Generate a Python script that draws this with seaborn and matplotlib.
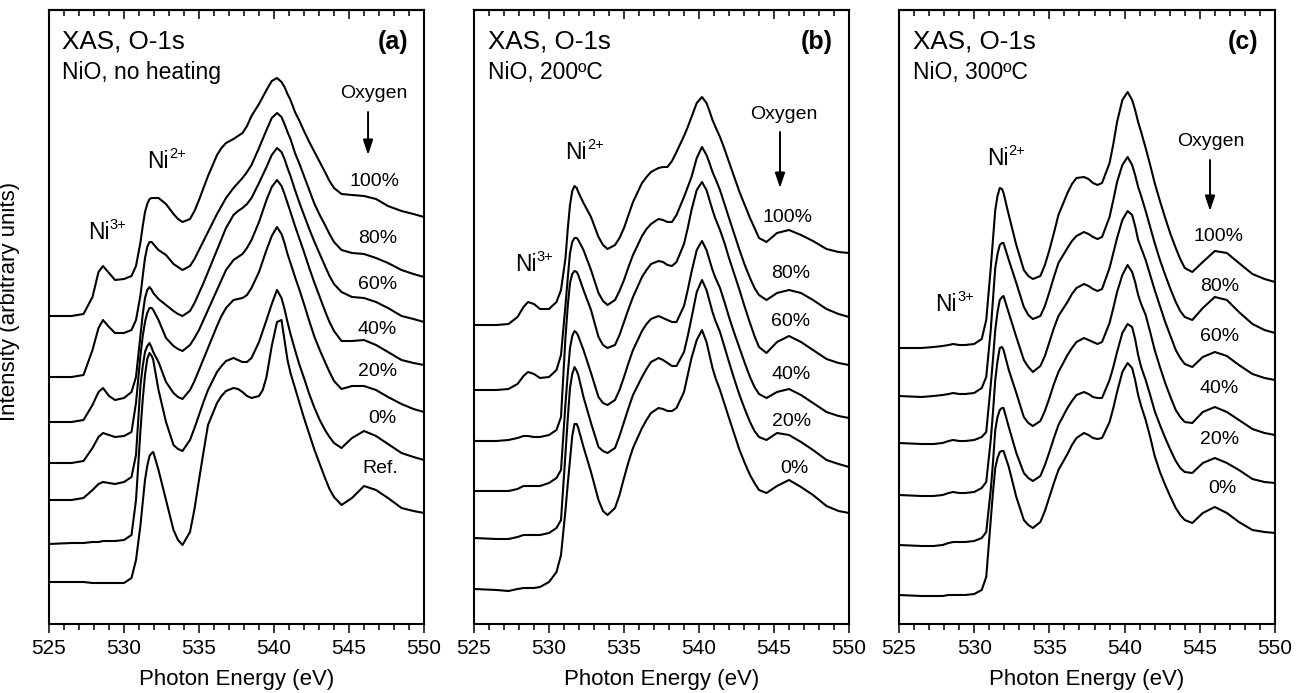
import matplotlib
matplotlib.use("Agg")
import matplotlib.pyplot as plt
import pandas as pd
import seaborn as sns
from matplotlib.ticker import MultipleLocator

# ---------------- data (photon energy in eV, intensity in arbitrary units, curves already stacked) -------------
energy = [525.0, 526.5, 527.3, 527.9, 528.3, 528.6, 529.0, 529.4, 530.0, 530.5,
          530.8, 531.1, 531.25, 531.4, 531.55, 531.7, 531.85, 531.95, 532.3, 532.8,
          533.3, 533.6, 533.9, 534.4, 534.7, 535.0, 535.3, 535.6, 536.2, 536.5,
          536.8, 537.3, 537.6, 537.9, 538.2, 538.5, 539.0, 539.25, 539.5, 539.85,
          540.2, 540.5, 540.7, 540.9, 541.1, 541.4, 541.7, 542.0, 542.35, 542.7,
          543.05, 543.4, 543.7, 544.0, 544.5, 545.2, 546.0, 546.8, 547.6, 548.5,
          549.3, 550.0]

# panel (a): NiO, no heating
a100 = [308, 308, 310, 327, 352, 358, 351, 344, 345, 348,
        358, 382, 398, 412, 420, 425, 426, 426, 426, 420,
        410, 405, 402, 405, 413, 424, 436, 448, 469, 476,
        481, 485, 488, 491, 498, 508, 520, 527, 534, 543,
        546, 542, 537, 530, 524, 512, 503, 493, 482, 472,
        462, 452, 443, 436, 430, 429, 428, 425, 418, 413,
        410, 407]
a80 = [247, 247, 249, 274, 296, 304, 297, 291, 291, 294,
       304, 329, 348, 366, 377, 382, 382, 380, 374, 369,
       360, 357, 354, 358, 365, 374, 383, 392, 410, 418,
       426, 436, 441, 446, 452, 459, 476, 485, 494, 506,
       511, 507, 500, 492, 485, 471, 460, 448, 434, 420,
       409, 399, 390, 382, 374, 371, 370, 366, 361, 354,
       350, 347]
a60 = [202, 202, 204, 219, 232, 236, 228, 224, 226, 232,
       247, 289, 310, 326, 334, 337, 334, 331, 325, 319,
       313, 310, 308, 313, 321, 331, 341, 352, 374, 385,
       396, 409, 413, 416, 420, 426, 441, 449, 457, 469,
       476, 472, 465, 456, 448, 434, 421, 409, 395, 382,
       370, 358, 348, 340, 332, 327, 326, 322, 316, 308,
       305, 302]
a40 = [161, 161, 163, 176, 187, 191, 189, 187, 188, 192,
       221, 269, 288, 302, 311, 316, 316, 314, 304, 286,
       278, 275, 273, 279, 286, 294, 304, 314, 334, 344,
       354, 364, 367, 370, 376, 384, 402, 413, 424, 437,
       444, 438, 430, 421, 412, 398, 385, 372, 356, 341,
       327, 313, 302, 293, 283, 283, 284, 279, 272, 264,
       261, 259]
a20 = [124, 124, 126, 134, 140, 142, 141, 140, 142, 147,
       169, 239, 258, 272, 278, 281, 276, 272, 262, 242,
       231, 227, 225, 234, 243, 254, 265, 276, 298, 308,
       316, 324, 325, 326, 329, 336, 352, 363, 374, 388,
       397, 390, 381, 370, 361, 347, 334, 320, 303, 287,
       274, 262, 252, 243, 235, 238, 238, 234, 227, 220,
       215, 212]
a0 = [80, 81, 81, 82, 82, 83, 83, 83, 84, 89,
      124, 194, 225, 249, 265, 271, 268, 264, 234, 202,
      179, 175, 173, 184, 196, 209, 222, 234, 252, 258,
      263, 266, 264, 262, 262, 266, 282, 293, 304, 320,
      334, 326, 315, 302, 290, 274, 259, 246, 230, 216,
      204, 194, 187, 181, 176, 186, 193, 188, 180, 171,
      167, 164]
a_ref = [42, 42, 42, 41, 41, 41, 41, 41, 41, 46,
         64, 99, 122, 144, 158, 168, 171, 172, 154, 124,
         94, 84, 79, 92, 115, 144, 172, 199, 221, 228,
         233, 236, 235, 232, 228, 226, 228, 234, 247, 278,
         302, 304, 284, 264, 251, 236, 221, 206, 190, 174,
         160, 146, 135, 127, 119, 126, 138, 134, 126, 116,
         113, 111]

# panel (b): NiO, 200 C
b100 = [299, 299, 300, 307, 317, 322, 320, 315, 315, 322,
        334, 366, 395, 419, 433, 438, 436, 432, 421, 407,
        387, 379, 375, 379, 386, 396, 409, 422, 441, 447,
        452, 456, 457, 457, 463, 472, 488, 497, 507, 521,
        527, 521, 513, 504, 497, 487, 475, 462, 447, 432,
        419, 406, 396, 386, 382, 391, 394, 389, 383, 375,
        372, 371]
b80 = [234, 234, 235, 240, 248, 252, 250, 246, 247, 254,
       269, 319, 346, 371, 382, 386, 386, 384, 374, 354,
       331, 323, 319, 324, 333, 344, 357, 369, 388, 395,
       400, 405, 404, 402, 402, 409, 427, 437, 447, 466,
       477, 469, 461, 452, 445, 434, 420, 406, 390, 374,
       359, 346, 336, 329, 324, 331, 334, 331, 324, 315,
       310, 307]
b60 = [183, 183, 184, 186, 188, 188, 187, 187, 189, 194,
       207, 287, 318, 341, 350, 353, 352, 349, 334, 314,
       287, 279, 276, 279, 289, 302, 315, 327, 347, 354,
       360, 363, 362, 359, 358, 362, 380, 396, 414, 434,
       442, 434, 424, 414, 405, 394, 381, 366, 350, 334,
       317, 301, 288, 277, 271, 282, 288, 282, 274, 265,
       261, 259]
b40 = [133, 133, 133, 135, 138, 138, 138, 138, 141, 146,
       154, 221, 250, 276, 288, 293, 291, 288, 274, 251,
       227, 221, 219, 224, 234, 247, 261, 274, 293, 300,
       305, 308, 306, 304, 302, 302, 318, 334, 352, 374,
       383, 374, 364, 354, 346, 336, 322, 307, 291, 276,
       261, 247, 237, 230, 226, 232, 235, 229, 221, 212,
       208, 206]
b20 = [86, 85, 85, 87, 89, 89, 89, 89, 91, 96,
       104, 171, 205, 236, 250, 257, 253, 249, 227, 201,
       177, 173, 171, 176, 188, 202, 216, 229, 247, 255,
       262, 266, 264, 261, 258, 258, 272, 288, 306, 332,
       344, 334, 323, 312, 303, 292, 277, 262, 245, 229,
       215, 202, 193, 187, 184, 191, 189, 182, 174, 164,
       160, 157]
b0 = [35, 34, 33, 35, 36, 36, 36, 37, 42, 52,
      69, 114, 140, 164, 188, 200, 200, 196, 177, 152,
      124, 113, 109, 116, 129, 146, 162, 176, 196, 204,
      211, 216, 215, 213, 213, 216, 232, 249, 266, 284,
      294, 282, 269, 256, 246, 234, 220, 206, 190, 174,
      161, 149, 141, 134, 131, 138, 144, 137, 129, 118,
      113, 111]

# panel (c): NiO, 300 C
c100 = [276, 276, 277, 278, 279, 280, 279, 279, 280, 285,
        304, 356, 385, 414, 428, 436, 435, 431, 409, 379,
        354, 348, 345, 348, 359, 374, 391, 409, 431, 440,
        446, 447, 445, 441, 439, 441, 461, 480, 502, 524,
        532, 524, 514, 502, 492, 476, 459, 441, 423, 406,
        390, 376, 365, 356, 352, 362, 373, 371, 361, 350,
        345, 342]
c80 = [228, 227, 228, 229, 230, 231, 230, 230, 231, 236,
       247, 294, 325, 356, 370, 379, 381, 381, 364, 341,
       317, 309, 305, 308, 318, 332, 347, 361, 376, 383,
       388, 392, 390, 387, 385, 387, 407, 424, 442, 459,
       467, 459, 449, 437, 428, 413, 397, 381, 364, 349,
       335, 322, 313, 307, 304, 316, 327, 324, 312, 300,
       294, 291]
c60 = [181, 180, 180, 181, 183, 184, 183, 183, 184, 187,
       192, 239, 265, 294, 312, 324, 327, 328, 311, 287,
       264, 257, 252, 258, 268, 282, 296, 308, 322, 330,
       336, 340, 338, 335, 333, 335, 356, 371, 386, 404,
       413, 409, 398, 384, 376, 364, 349, 334, 318, 302,
       288, 274, 266, 260, 257, 267, 272, 268, 259, 250,
       246, 244]
c40 = [129, 128, 128, 129, 131, 132, 131, 131, 132, 136,
       142, 184, 212, 244, 263, 276, 277, 274, 254, 231,
       207, 201, 198, 203, 213, 226, 240, 252, 269, 276,
       282, 286, 284, 282, 280, 282, 301, 316, 332, 349,
       359, 352, 342, 329, 320, 309, 292, 274, 257, 241,
       227, 214, 207, 202, 201, 212, 217, 212, 204, 195,
       191, 189]
c20 = [79, 78, 78, 79, 81, 82, 82, 82, 83, 86,
       92, 134, 162, 194, 207, 214, 216, 216, 197, 171,
       151, 146, 143, 148, 159, 172, 186, 199, 216, 223,
       229, 232, 230, 227, 226, 226, 244, 257, 272, 291,
       300, 297, 285, 269, 257, 244, 229, 213, 199, 186,
       174, 163, 156, 152, 151, 161, 166, 161, 154, 145,
       142, 141]
c0 = [29, 28, 28, 28, 29, 29, 29, 29, 30, 34,
      47, 104, 132, 156, 166, 172, 173, 173, 157, 127,
      104, 99, 96, 102, 113, 127, 141, 154, 170, 179,
      186, 191, 189, 186, 185, 186, 202, 216, 232, 252,
      261, 256, 244, 229, 218, 204, 187, 168, 152, 139,
      127, 116, 109, 104, 101, 111, 117, 111, 102, 94,
      92, 91]

curve_labels_a = ["100%", "80%", "60%", "40%", "20%", "0%", "Ref."]
curve_labels_bc = ["100%", "80%", "60%", "40%", "20%", "0%"]
panel_tags = ["(a)", "(b)", "(c)"]
panel_subtitles = ["NiO, no heating", "NiO, 200ºC", "NiO, 300ºC"]

panels = [
    dict(curves=[a100, a80, a60, a40, a20, a0, a_ref], labels=curve_labels_a,
         label_pos=[(546.73, 438), (546.9, 381), (546.9, 335), (546.9, 290), (546.9, 248), (547.2, 201), (547.07, 151)],
         oxygen=(546.63, 526), arrow=(546.27, 512, 469), ni2=(531.53, 456), ni3=(527.6, 385)),
    dict(curves=[b100, b80, b60, b40, b20, b0], labels=curve_labels_bc,
         label_pos=[(545.93, 402), (546.1, 346), (546.1, 298), (546.15, 245), (546.15, 198), (546.35, 151)],
         oxygen=(545.67, 505), arrow=(545.4, 492, 436), ni2=(531.07, 465), ni3=(527.73, 353)),
    dict(curves=[c100, c80, c60, c40, c20, c0], labels=curve_labels_bc,
         label_pos=[(546.26, 383), (546.3, 333), (546.3, 283), (546.3, 231), (546.3, 180), (546.5, 131)],
         oxygen=(545.72, 478), arrow=(545.68, 464, 413), ni2=(530.83, 459), ni3=(527.4, 313)),
]

# ---------------- style ----------------
sns.set_style("ticks")
plt.rcParams["font.family"] = ["Liberation Sans", "DejaVu Sans"]
plt.rcParams["text.color"] = "black"
plt.rcParams["axes.edgecolor"] = "black"
plt.rcParams["axes.labelcolor"] = "black"
plt.rcParams["xtick.color"] = "black"
plt.rcParams["ytick.color"] = "black"

W, H = 1301, 693
fig = plt.figure(figsize=(W / 100, H / 100), dpi=100)
lefts = [49, 474, 899]
widths = [375, 375, 376]


def ion_label(ax, pos, charge):
    x, y = pos
    ax.text(x, y, "Ni", fontsize=16.5, ha="left", va="baseline")
    ax.annotate(charge, xy=(x, y), xytext=(15.8, 7.2), textcoords="offset points",
                fontsize=10.5, ha="left", va="baseline")


for i, p in enumerate(panels):
    ax = fig.add_axes([lefts[i] / W, 69 / H, widths[i] / W, 614 / H])
    frames = []
    for lab, vals in zip(p["labels"], p["curves"]):
        frames.append(pd.DataFrame({"energy": energy, "intensity": vals, "sample": lab}))
    df = pd.concat(frames, ignore_index=True)
    sns.lineplot(data=df, x="energy", y="intensity", hue="sample",
                 palette=["black"] * len(p["labels"]), legend=False,
                 linewidth=1.5, estimator=None, sort=False, ax=ax)

    ax.set_xlim(525, 550)
    ax.set_ylim(0, 614)
    ax.set_yticks([])
    ax.set_ylabel("")
    ax.xaxis.set_major_locator(MultipleLocator(5))
    ax.xaxis.set_minor_locator(MultipleLocator(1))
    ax.tick_params(axis="x", which="major", direction="out", length=6.5, width=1.1,
                   labelsize=15, pad=4)
    ax.tick_params(axis="x", which="minor", direction="out", length=4, width=1.1)
    for sp in ax.spines.values():
        sp.set_linewidth(1.5)
        sp.set_visible(True)

    top = ax.secondary_xaxis("top")
    top.xaxis.set_major_locator(MultipleLocator(5))
    top.xaxis.set_minor_locator(MultipleLocator(1))
    top.tick_params(which="major", direction="in", length=6.5, width=1.1, labeltop=False)
    top.tick_params(which="minor", direction="in", length=4, width=1.1)
    top.spines["top"].set_linewidth(1.5)

    ax.set_xlabel("Photon Energy (eV)", fontsize=16, labelpad=8)

    ax.text(0.036, 0.937, "XAS, O-1s", transform=ax.transAxes, fontsize=18.7,
            ha="left", va="baseline")
    ax.text(0.036, 0.887, panel_subtitles[i], transform=ax.transAxes, fontsize=16.5,
            ha="left", va="baseline")
    ax.text(0.957, 0.937, panel_tags[i], transform=ax.transAxes, fontsize=18,
            fontweight="bold", ha="right", va="baseline")

    for lab, (x, y) in zip(p["labels"], p["label_pos"]):
        ax.text(x, y, lab, fontsize=14, ha="center", va="baseline")
    ox, oy = p["oxygen"]
    ax.text(ox, oy, "Oxygen", fontsize=14, ha="center", va="baseline")
    axx, ay0, ay1 = p["arrow"]
    ax.annotate("", xy=(axx, ay1), xytext=(axx, ay0),
                arrowprops=dict(arrowstyle="-|>,head_length=0.9,head_width=0.3",
                                color="black", lw=1.4, shrinkA=0, shrinkB=0))
    ion_label(ax, p["ni2"], "2+")
    ion_label(ax, p["ni3"], "3+")

    if i == 0:
        ax.set_ylabel("Intensity (arbitrary units)", fontsize=16)
        ax.yaxis.set_label_coords(-0.077, 0.526)

fig.savefig("out.png", dpi=100)
